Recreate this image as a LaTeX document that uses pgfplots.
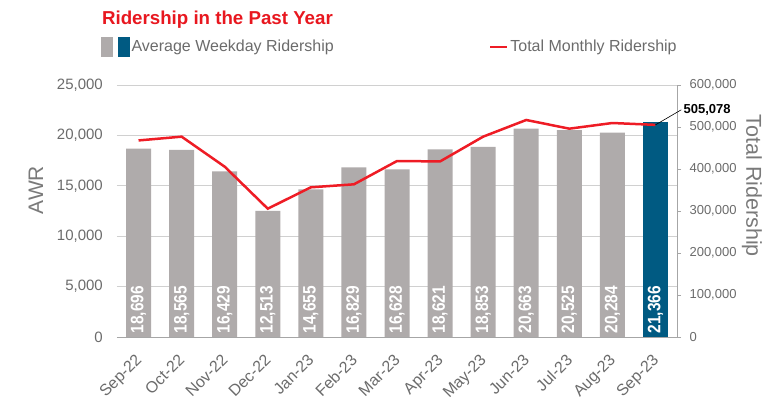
\documentclass[border=0pt]{standalone}
\usepackage{fontspec}
\setmainfont{Liberation Sans}
\usepackage{pgfplots}
\pgfplotsset{compat=1.18}
\usetikzlibrary{calc}

\definecolor{bargray}{HTML}{AFABAB}
\definecolor{barblue}{HTML}{005A82}
\definecolor{linered}{HTML}{EE1C25}
\definecolor{titlered}{HTML}{E8171F}
\definecolor{tickgray}{HTML}{6B6B6B}
\definecolor{labelgray}{HTML}{7A7A7A}
\definecolor{gridgray}{HTML}{D0D0D0}
\definecolor{axisgray}{HTML}{A6A6A6}

\begin{document}
\begin{tikzpicture}
% left axis: average weekday ridership (bars)
\begin{axis}[
    name=ax,
    width=560pt, height=252pt, scale only axis,
    xmin=-0.5, xmax=12.5, ymin=0, ymax=25000,
    axis x line*=bottom, axis y line*=left,
    x axis line style={-, draw=axisgray, line width=0.8pt},
    y axis line style={draw=none},
    xtick={0,...,12},
    xticklabels={Sep-22,Oct-22,Nov-22,Dec-22,Jan-23,Feb-23,Mar-23,Apr-23,May-23,Jun-23,Jul-23,Aug-23,Sep-23},
    xtick style={draw=none}, ytick style={draw=none},
    ytick={0,5000,10000,15000,20000,25000},
    ymajorgrids, grid style={draw=gridgray, line width=0.8pt},
    scaled y ticks=false,
    /pgf/number format/fixed,
    /pgf/number format/1000 sep={,},
    /pgf/number format/assume math mode=true,
    yticklabel style={font=\fontsize{15}{15}\selectfont, text=tickgray, inner sep=0pt, xshift=-14pt},
    xticklabel style={font=\fontsize{16}{16}\selectfont, text=tickgray, rotate=45, anchor=north east, inner sep=0pt, xshift=-14.2pt, yshift=-8.5pt},
    ylabel={AWR},
    ylabel style={at={(axis description cs:-0.145,0.583)}, anchor=center, font=\fontsize{21}{21}\selectfont, text=labelgray},
]
\addplot[ybar, bar width=25pt, bar shift=0pt, fill=bargray, draw=none] coordinates {
  (0,18696) (1,18565) (2,16429) (3,12513) (4,14655) (5,16829)
  (6,16628) (7,18621) (8,18853) (9,20663) (10,20525) (11,20284)};
\addplot[ybar, bar width=25pt, bar shift=0pt, fill=barblue, draw=none] coordinates {(12,21366)};
% value labels at the foot of each bar
\addplot[draw=none, mark=none, point meta=explicit, nodes near coords,
    nodes near coords style={rotate=90, xscale=0.86, anchor=west, inner xsep=4pt, inner ysep=0pt,
      text=white, font=\bfseries\fontsize{18}{18}\selectfont}] coordinates {
  (0,0) [18696] (1,0) [18565] (2,0) [16429] (3,0) [12513] (4,0) [14655]
  (5,0) [16829] (6,0) [16628] (7,0) [18621] (8,0) [18853] (9,0) [20663]
  (10,0) [20525] (11,0) [20284] (12,0) [21366]};
\end{axis}

% right axis: total monthly ridership (line)
\begin{axis}[
    width=560pt, height=252pt, scale only axis,
    at={(ax.south west)}, anchor=south west,
    xmin=-0.5, xmax=12.5, ymin=0, ymax=600000,
    axis y line*=right, axis x line=none,
    y axis line style={-, draw=axisgray, line width=0.8pt},
    ytick={0,100000,200000,300000,400000,500000,600000},
    tick align=outside, major tick length=4pt,
    ytick style={draw=axisgray, line width=0.8pt},
    scaled y ticks=false,
    /pgf/number format/fixed,
    /pgf/number format/1000 sep={,},
    /pgf/number format/assume math mode=true,
    yticklabel style={font=\fontsize{13}{13}\selectfont, text=tickgray, xshift=5pt},
    ylabel={Total Ridership},
    ylabel style={at={(axis description cs:1.134,0.60)}, anchor=center, rotate=180, font=\fontsize{21.5}{21.5}\selectfont, text=labelgray},
    clip=false,
    legend columns=2,
    legend cell align=left,
    legend style={at={(axis description cs:-0.0286,1.151)}, anchor=west, draw=none, fill=none,
      inner sep=0pt, font=\fontsize{16}{16}\selectfont, text=tickgray,
      /tikz/every even column/.append style={column sep=153pt}},
]
\addlegendimage{legend image code/.code={
  \fill[bargray] (0pt,-9.5pt) rectangle (11pt,9.5pt);
  \fill[barblue] (16.5pt,-9.5pt) rectangle (28pt,9.5pt);}}
\addlegendentry{Average Weekday Ridership}
\addplot[linered, line width=2.5pt, mark=none] coordinates {
  (0,468000) (1,477000) (2,405500) (3,305500) (4,356400) (5,363500)
  (6,419000) (7,418000) (8,477000) (9,516700) (10,496000) (11,509500) (12,505078)};
\addlegendentry{Total Monthly Ridership}
\draw[black, line width=0.6pt] (axis cs:12,505078) -- (axis cs:12.6,541000)
  node[anchor=west, inner sep=2pt, font=\bfseries\fontsize{13}{13}\selectfont] {505,078};
\node[anchor=west, inner sep=0pt, font=\bfseries\fontsize{18.7}{18.7}\selectfont, text=titlered]
  at (axis description cs:-0.027,1.258) {Ridership in the Past Year};
\end{axis}

\pgfresetboundingbox
\path[use as bounding box] ($(ax.south west)+(-117pt,-74pt)$) rectangle ($(ax.north east)+(103pt,85pt)$);
\end{tikzpicture}
\end{document}
